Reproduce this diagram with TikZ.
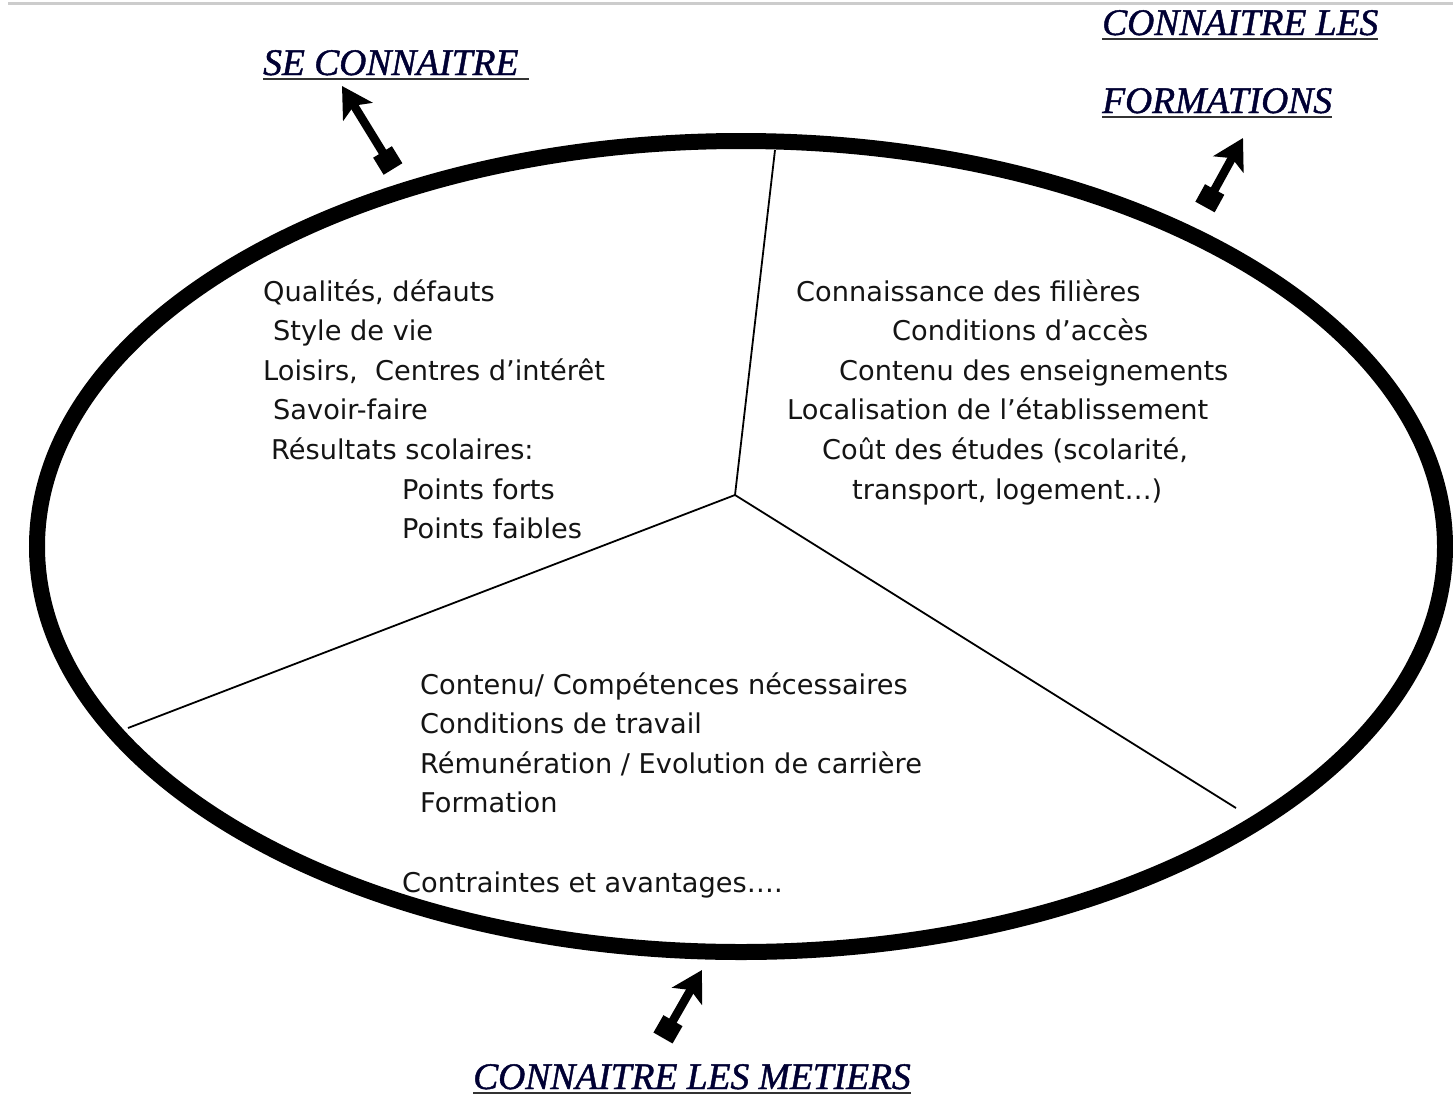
\documentclass[tikz,border=0pt]{standalone}
\usepackage{fontspec}
\setmainfont{DejaVu Sans}
\newfontfamily\headfont[FakeBold=1.2]{Liberation Serif}
\usetikzlibrary{arrows.meta}
\tikzset{
  body/.style={anchor=base west, inner sep=0pt, font=\fontsize{27.2}{30}\selectfont, text=black!92},
  head/.style={anchor=base west, inner sep=0pt, font=\headfont\itshape\fontsize{37.5}{40}\selectfont, text=black!80!blue},
  uline/.style={line width=2.2pt, draw=black!80},
  dblarrow/.style={line width=8.5pt, {Square[length=20pt,width=22pt]}-{Stealth[length=30pt,width=34pt,inset=7pt]}},
  divider/.style={line width=1.8pt, draw=black}
}
\begin{document}
\begin{tikzpicture}[x=1pt,y=-1pt]
\useasboundingbox (0,0) rectangle (1453,1095);
\fill[white] (0,0) rectangle (1453,1095);
% top grey rule
\draw[line width=3pt, black!20] (8,3) -- (1453,3);

% ellipse
\draw[line width=16pt] (741,546.5) ellipse [x radius=704, y radius=405.5];

% dividers
\coordinate (c) at (735,495);
\coordinate (dt) at (775,150);
\coordinate (dl) at (128,728);
\coordinate (dr) at (1236,808);
\draw[divider] (c) -- (dt);
\draw[divider] (c) -- (dl);
\draw[divider] (c) -- (dr);

% headings
\node[head] (se) at (263,75) {SE CONNAITRE};
\draw[uline] ([yshift=-4pt]se.base west) -- ([yshift=-4pt,xshift=10pt]se.base east);
\node[head] (cf1) at (1102,35) {CONNAITRE LES};
\draw[uline] ([yshift=-4pt]cf1.base west) -- ([yshift=-4pt]cf1.base east);
\node[head] (cf2) at (1102,113) {FORMATIONS};
\draw[uline] ([yshift=-4pt]cf2.base west) -- ([yshift=-4pt]cf2.base east);
\node[head] (cm) at (473,1089) {CONNAITRE LES METIERS};
\draw[uline] ([yshift=-4pt]cm.base west) -- ([yshift=-4pt]cm.base east);

% arrows
\coordinate (a1s) at (393,169);
\coordinate (a1e) at (342,86);
\draw[dblarrow] (a1s) -- (a1e);
\coordinate (a2s) at (1205,207);
\coordinate (a2e) at (1243,138);
\draw[dblarrow] (a2s) -- (a2e);
\coordinate (a3s) at (663,1038);
\coordinate (a3e) at (702,970);
\draw[dblarrow] (a3s) -- (a3e);

% left block
\node[body] (l1) at (263,301) {Qualités, défauts};
\node[body] (l2) at (273,340) {Style de vie};
\node[body] (l3) at (263,380) {Loisirs,\ \ Centres d'intérêt};
\node[body] (l4) at (273,419) {Savoir-faire};
\node[body] (l5) at (271,459) {Résultats scolaires:};
\node[body] (l6) at (402,499) {Points forts};
\node[body] (l7) at (402,538) {Points faibles};

% right block
\node[body] (r1) at (796,301) {Connaissance des filières};
\node[body] (r2) at (892,340) {Conditions d'accès};
\node[body] (r3) at (839,380) {Contenu des enseignements};
\node[body] (r4) at (787,419) {Localisation de l'établissement};
\node[body] (r5) at (822,459) {Coût des études (scolarité,};
\node[body] (r6) at (852,499) {transport, logement…)};

% bottom block
\node[body] (b1) at (420,694) {Contenu/ Compétences nécessaires};
\node[body] (b2) at (420,733) {Conditions de travail};
\node[body] (b3) at (420,773) {Rémunération / Evolution de carrière};
\node[body] (b4) at (420,812) {Formation};
\node[body] (b5) at (402,892) {Contraintes et avantages….};
\end{tikzpicture}
\end{document}
